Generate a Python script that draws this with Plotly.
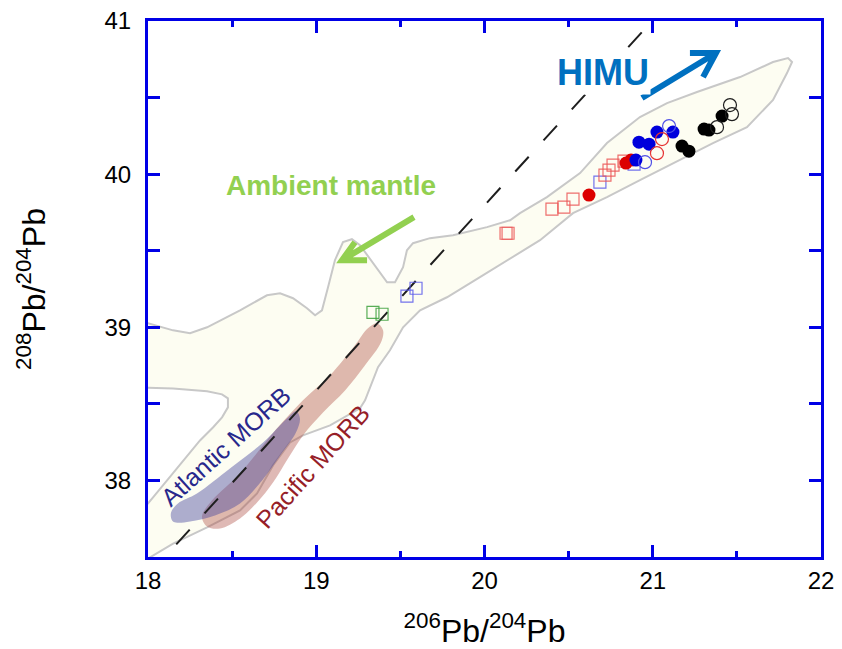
import plotly.graph_objects as go

# --- Field envelope of ocean-island basalts (206Pb/204Pb, 208Pb/204Pb) ---
envelope_x = [17.952, 18.000, 18.149, 18.250, 18.351, 18.547, 18.707, 18.785, 18.862, 18.945,
              18.993, 19.034, 19.070, 19.111, 19.159, 19.212, 19.260, 19.337, 19.421, 19.468,
              19.516, 19.539, 19.575, 19.676, 19.813, 20.015, 20.152, 20.211, 20.371, 20.568,
              20.728, 20.924, 21.085, 21.263, 21.519, 21.715, 21.804, 21.828,
              21.798, 21.715, 21.596, 21.560, 21.358, 21.120, 20.924, 20.728, 20.526, 20.330,
              20.169, 19.973, 19.777, 19.617, 19.516, 19.438, 19.367, 19.337, 19.290, 19.260,
              19.082, 18.921, 18.844, 18.743, 18.648, 18.547, 18.351, 18.149, 18.012, 17.952,
              17.893, 18.000, 18.030, 18.113, 18.208, 18.309, 18.386, 18.440, 18.475, 18.475,
              18.440, 18.351, 18.149, 18.000, 17.893, 17.893]
envelope_y = [39.026, 39.026, 38.980, 38.961, 39.000, 39.111, 39.209, 39.222, 39.190, 39.124,
              39.078, 39.111, 39.261, 39.438, 39.556, 39.575, 39.536, 39.418, 39.294, 39.294,
              39.392, 39.503, 39.549, 39.582, 39.601, 39.654, 39.699, 39.745, 39.850, 40.007,
              40.203, 40.373, 40.464, 40.536, 40.634, 40.732, 40.758, 40.732,
              40.660, 40.484, 40.353, 40.307, 40.203, 40.072, 39.961, 39.850, 39.745, 39.569,
              39.458, 39.327, 39.196, 39.111, 39.000, 38.850, 38.739, 38.654, 38.523, 38.471,
              38.359, 38.294, 38.248, 38.098, 37.915, 37.804, 37.693, 37.588, 37.497, 37.458,
              37.850, 37.850, 37.889, 38.000, 38.131, 38.261, 38.346, 38.412, 38.477, 38.536,
              38.562, 38.582, 38.601, 38.608, 38.608, 39.026]

# --- MORB fields ---
pacific_x = [19.361, 19.397, 19.385, 19.290, 19.171, 19.040, 18.921, 18.832, 18.743, 18.648,
             18.547, 18.428, 18.351, 18.321, 18.380, 18.547, 18.767, 18.921, 19.082, 19.230,
             19.307, 19.361]
pacific_y = [39.026, 38.980, 38.902, 38.752, 38.588, 38.444, 38.294, 38.144, 37.987, 37.856,
             37.752, 37.686, 37.699, 37.765, 37.869, 38.046, 38.340, 38.523, 38.686, 38.882,
             38.993, 39.026]

atlantic_x = [18.143, 18.137, 18.178, 18.291, 18.487, 18.684, 18.826, 18.880, 18.903, 18.880,
              18.785, 18.678, 18.547, 18.398, 18.250, 18.166, 18.143]
atlantic_y = [37.739, 37.791, 37.850, 37.915, 38.078, 38.248, 38.405, 38.451, 38.405, 38.314,
              38.163, 38.000, 37.850, 37.771, 37.732, 37.725, 37.739]

# --- Reference line ---
ref_line_x = [18.0, 20.996]
ref_line_y = [37.379, 41.0]

# --- Samples ---
sq_red_x = [20.128, 20.140, 20.401, 20.472, 20.526, 20.716, 20.740, 20.764, 20.829]
sq_red_y = [39.614, 39.614, 39.771, 39.784, 39.837, 39.993, 40.026, 40.059, 40.085]
sq_blue_x = [19.539, 19.593, 20.686, 20.889]
sq_blue_y = [39.203, 39.255, 39.948, 40.065]
sq_green_x = [19.337, 19.391]
sq_green_y = [39.098, 39.085]

dot_red_x = [20.621, 20.841, 20.871]
dot_red_y = [39.863, 40.072, 40.092]
dot_blue_x = [20.918, 20.978, 21.025, 21.120, 20.900]
dot_blue_y = [40.209, 40.196, 40.275, 40.275, 40.092]
dot_black_x = [21.305, 21.334, 21.412, 21.174, 21.215]
dot_black_y = [40.294, 40.288, 40.379, 40.183, 40.150]

ring_red_x = [21.055, 21.025]
ring_red_y = [40.229, 40.137]
ring_blue_x = [21.097, 20.954]
ring_blue_y = [40.314, 40.078]
ring_black_x = [21.459, 21.471, 21.382]
ring_black_y = [40.451, 40.392, 40.307]

# --- Arrows (tail, tip, wing, wing) ---
ambient_arrow = [(19.581, 39.719), (19.153, 39.438), (19.230, 39.556), (19.302, 39.438)]
himu_arrow = [(20.936, 40.497), (21.376, 40.791), (21.221, 40.791), (21.299, 40.634)]

x_ticks = [18, 19, 20, 21, 22]
y_ticks = [38, 39, 40, 41]

AXIS_BLUE = "rgb(0,0,230)"
FONT = "Liberation Sans, Arial, sans-serif"

fig = go.Figure()

fig.add_trace(go.Scatter(x=envelope_x, y=envelope_y, mode="lines", fill="toself",
                         fillcolor="rgb(253,253,242)",
                         line=dict(color="rgb(200,200,200)", width=2), hoverinfo="skip"))
fig.add_trace(go.Scatter(x=pacific_x, y=pacific_y, mode="lines", fill="toself",
                         fillcolor="rgba(170,70,60,0.38)", line=dict(width=0, shape="spline"),
                         hoverinfo="skip"))
fig.add_trace(go.Scatter(x=atlantic_x, y=atlantic_y, mode="lines", fill="toself",
                         fillcolor="rgba(75,75,160,0.45)", line=dict(width=0, shape="spline"),
                         hoverinfo="skip"))
fig.add_trace(go.Scatter(x=ref_line_x, y=ref_line_y, mode="lines",
                         line=dict(color="rgb(30,30,30)", width=2, dash="20px,22px"),
                         hoverinfo="skip"))


def open_marker(xs, ys, symbol, color, size):
    return go.Scatter(x=xs, y=ys, mode="markers",
                      marker=dict(symbol=symbol, size=size, color=color,
                                  line=dict(color=color, width=1.2)))


def solid_marker(xs, ys, color, size=13):
    return go.Scatter(x=xs, y=ys, mode="markers",
                      marker=dict(symbol="circle", size=size, color=color, line=dict(width=0)))


fig.add_trace(open_marker(sq_green_x, sq_green_y, "square-open", "rgba(60,160,60,0.85)", 12))
fig.add_trace(open_marker(sq_blue_x, sq_blue_y, "square-open", "rgba(90,90,235,0.85)", 12))
fig.add_trace(open_marker(sq_red_x, sq_red_y, "square-open", "rgba(235,85,85,0.85)", 12))
fig.add_trace(solid_marker(dot_red_x, dot_red_y, "rgb(220,0,0)"))
fig.add_trace(solid_marker(dot_blue_x, dot_blue_y, "rgb(0,0,220)"))
fig.add_trace(solid_marker(dot_black_x, dot_black_y, "black"))
fig.add_trace(open_marker(ring_red_x, ring_red_y, "circle-open", "rgb(230,50,50)", 13))
fig.add_trace(open_marker(ring_blue_x, ring_blue_y, "circle-open", "rgb(80,80,230)", 13))
fig.add_trace(open_marker(ring_black_x, ring_black_y, "circle-open", "rgb(30,30,30)", 13))


def arrow_path(pts):
    (x0, y0), (x1, y1), (xa, ya), (xb, yb) = pts
    return f"M {x0},{y0} L {x1},{y1} M {xa},{ya} L {x1},{y1} L {xb},{yb}"


shapes = [
    dict(type="path", xref="x", yref="y", path=arrow_path(ambient_arrow),
         line=dict(color="rgb(146,208,80)", width=6)),
    dict(type="path", xref="x", yref="y", path=arrow_path(himu_arrow),
         line=dict(color="rgb(0,112,192)", width=6)),
]

annotations = [
    dict(x=19.088, y=39.928, text="<b>Ambient mantle</b>", showarrow=False,
         font=dict(family=FONT, size=28, color="rgb(146,208,80)")),
    dict(x=20.704, y=40.667, text="<b>HIMU</b>", showarrow=False, bgcolor="white",
         font=dict(family=FONT, size=36, color="rgb(0,112,192)")),
    dict(x=18.464, y=38.222, text="Atlantic MORB", showarrow=False, textangle=-42,
         font=dict(family=FONT, size=25, color="rgb(40,40,140)")),
    dict(x=18.981, y=38.092, text="Pacific MORB", showarrow=False, textangle=-48,
         font=dict(family=FONT, size=25, color="rgb(150,30,40)")),
]

axis_common = dict(showline=True, linecolor=AXIS_BLUE, linewidth=3, mirror="allticks",
                   ticks="inside", tickcolor=AXIS_BLUE, tickwidth=3, showgrid=False,
                   zeroline=False, automargin=False,
                   tickfont=dict(family=FONT, size=24, color="black"))

fig.update_layout(
    width=842, height=649,
    margin=dict(l=148, r=21, t=21, b=92),
    paper_bgcolor="white", plot_bgcolor="white",
    showlegend=False,
    shapes=shapes, annotations=annotations,
    xaxis=dict(range=[18, 22], tickvals=x_ticks, ticklen=12,
               minor=dict(dtick=0.5, ticks="inside", ticklen=6, tickcolor=AXIS_BLUE,
                          tickwidth=3, showgrid=False),
               title=dict(text="<sup>206</sup>Pb/<sup>204</sup>Pb",
                          font=dict(family=FONT, size=32, color="black"), standoff=27),
               **axis_common),
    yaxis=dict(range=[37.5, 41], tickvals=y_ticks, ticklen=12, ticklabelstandoff=9,
               minor=dict(dtick=0.5, ticks="inside", ticklen=12, tickcolor=AXIS_BLUE,
                          tickwidth=3, showgrid=False),
               title=dict(text="<sup>208</sup>Pb/<sup>204</sup>Pb",
                          font=dict(family=FONT, size=32, color="black"), standoff=50),
               **axis_common),
)

fig.write_html("out.html")
